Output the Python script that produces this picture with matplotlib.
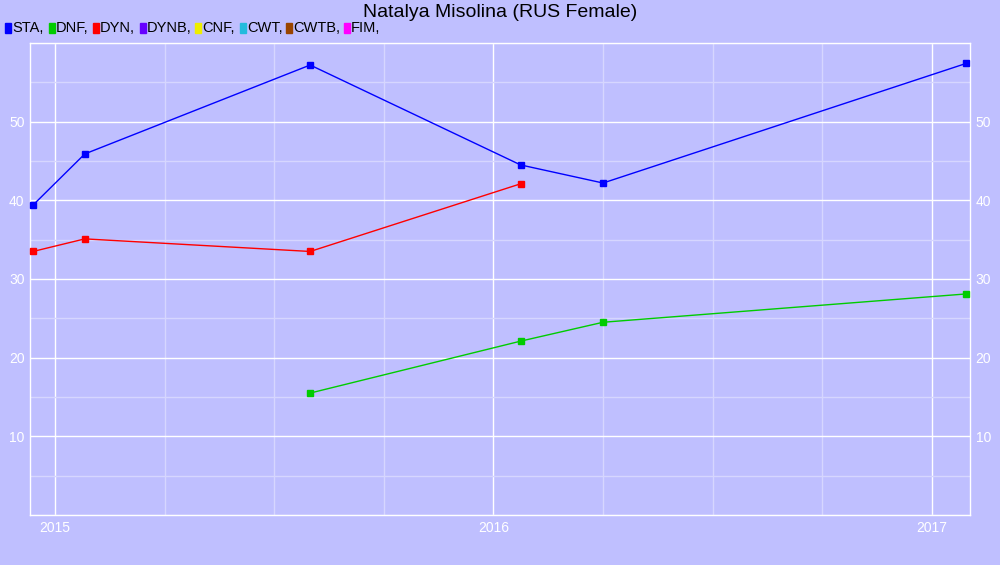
import matplotlib
matplotlib.use("Agg")
import matplotlib.pyplot as plt
from matplotlib.patches import Rectangle
from matplotlib.ticker import MultipleLocator, FixedLocator

plt.rcParams["font.family"] = ["Liberation Sans", "DejaVu Sans"]

BG = "#BFBFFF"

# dates as fractional years
sta_x = [2014.950, 2015.068, 2015.582, 2016.062, 2016.250, 2017.078]
sta_y = [39.4, 45.9, 57.2, 44.5, 42.2, 57.4]
dyn_x = [2014.950, 2015.068, 2015.582, 2016.062]
dyn_y = [33.5, 35.1, 33.5, 42.1]
dnf_x = [2015.582, 2016.062, 2016.250, 2017.078]
dnf_y = [15.5, 22.1, 24.5, 28.1]

legend_names = ["STA", "DNF", "DYN", "DYNB", "CNF", "CWT", "CWTB", "FIM"]
legend_colors = ["#0000FF", "#00CC00", "#FF0000", "#6600FF",
                 "#EEEE00", "#22BBDD", "#994400", "#FF00FF"]
legend_xpos = [5, 49, 93, 140, 195, 240, 286, 344]

year_ticks = [2015, 2016, 2017]
y_ticks = [10, 20, 30, 40, 50]

fig = plt.figure(figsize=(10, 5.65), dpi=100, facecolor=BG)
ax = fig.add_axes([0.030, 0.0885, 0.940, 0.8354], facecolor=BG)

for x, y, c in [(sta_x, sta_y, "#0000FF"), (dyn_x, dyn_y, "#FF0000"),
                (dnf_x, dnf_y, "#00CC00")]:
    ax.plot(x, y, color=c, lw=1, marker="s", ms=5, mec=c, mfc=c,
            zorder=3, clip_on=False)

ax.set_xlim(2014.943, 2017.087)
ax.set_ylim(0, 60)
ax.xaxis.set_major_locator(FixedLocator(year_ticks))
ax.set_xticklabels([str(t) for t in year_ticks])
ax.xaxis.set_minor_locator(MultipleLocator(0.25))
ax.yaxis.set_major_locator(FixedLocator(y_ticks))
ax.yaxis.set_minor_locator(MultipleLocator(5))

ax.grid(which="major", color="white", lw=1)
ax.grid(which="minor", color="#D6D6FF", lw=1)
ax.set_axisbelow(True)
for s in ax.spines.values():
    s.set_color("white")
    s.set_linewidth(1)

ax.tick_params(which="both", length=0, colors="white", labelsize=10)
ax.tick_params(axis="y", labelright=True, pad=4)
ax.tick_params(axis="x", pad=4)

fig.text(0.5, 0.977, "Natalya Misolina (RUS Female)", ha="center", va="center",
         fontsize=14, color="black")

for name, col, px in zip(legend_names, legend_colors, legend_xpos):
    fig.patches.append(Rectangle((px / 1000, 1 - 33 / 565), 6 / 1000, 10 / 565,
                                 transform=fig.transFigure, color=col))
    fig.text((px + 7) / 1000, 1 - 28 / 565, name + ",", ha="left", va="center",
             fontsize=10.5, color="black")

fig.savefig("out.png", dpi=100, facecolor=BG)
